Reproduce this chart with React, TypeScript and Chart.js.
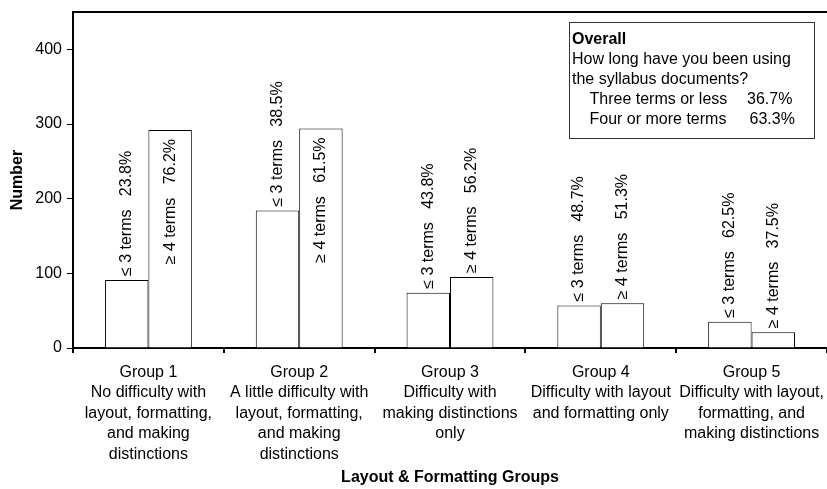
import React, { useEffect, useRef } from "react";
import { Chart, registerables } from "chart.js";

Chart.register(...registerables);

// Group labels (multi-line, drawn under each category)
const groupLabels: string[][] = [
  ["Group 1", "No difficulty with", "layout, formatting,", "and making", "distinctions"],
  ["Group 2", "A little difficulty with", "layout, formatting,", "and making", "distinctions"],
  ["Group 3", "Difficulty with", "making distinctions", "only"],
  ["Group 4", "Difficulty with layout", "and formatting only"],
  ["Group 5", "Difficulty with layout,", "formatting, and", "making distinctions"],
];

// Respondents per group by length of use
const threeOrLess = [91, 184, 74, 57, 35];
const fourOrMore = [292, 294, 95, 60, 21];

const seriesTags = ["\u2264 3 terms", "\u2265 4 terms"];
const yTickValues = [0, 100, 200, 300, 400];
const yMax = 450;

const xTitle = "Layout & Formatting Groups";
const yTitle = "Number";

const boxTitle = "Overall";
const boxQuestion = ["How long have you been using", "the syllabus documents?"];
const boxRows = ["Three terms or less", "Four or more terms"];

const FONT = "'Liberation Sans', Arial, Helvetica, sans-serif";

const pct = (v: number, total: number) => ((v / total) * 100).toFixed(1) + "%";

const barLabelPlugin = {
  id: "barLabels",
  afterDatasetsDraw(chart: any) {
    const { ctx, chartArea } = chart;
    ctx.save();
    ctx.font = `16px ${FONT}`;
    ctx.fillStyle = "#000";
    ctx.textBaseline = "middle";
    const series = [threeOrLess, fourOrMore];
    chart.data.datasets.forEach((_ds: any, di: number) => {
      const meta = chart.getDatasetMeta(di);
      meta.data.forEach((bar: any, i: number) => {
        const total = threeOrLess[i] + fourOrMore[i];
        const text = `${seriesTags[di]}   ${pct(series[di][i], total)}`;
        const w = ctx.measureText(text).width;
        const gap = 4;
        ctx.save();
        if (bar.y - gap - w >= chartArea.top + 2) {
          ctx.translate(bar.x, bar.y - gap);
          ctx.rotate(-Math.PI / 2);
          ctx.textAlign = "left";
        } else {
          ctx.translate(bar.x, bar.y + 9);
          ctx.rotate(-Math.PI / 2);
          ctx.textAlign = "right";
        }
        ctx.fillText(text, 0, 0);
        ctx.restore();
      });
    });
    ctx.restore();
  },
};

const framePlugin = {
  id: "frameAndBox",
  afterDraw(chart: any) {
    const { ctx, chartArea, width } = chart;
    ctx.save();
    // top frame line
    ctx.strokeStyle = "#000";
    ctx.lineWidth = 2;
    ctx.beginPath();
    ctx.moveTo(chartArea.left - 1, chartArea.top);
    ctx.lineTo(width, chartArea.top);
    ctx.stroke();

    // overall summary box
    const bx = chartArea.right - 258.5;
    const by = chartArea.top + 10;
    const bw = 245;
    const bh = 116;
    ctx.fillStyle = "#fff";
    ctx.fillRect(bx, by, bw, bh);
    ctx.strokeStyle = "#333";
    ctx.lineWidth = 1;
    ctx.strokeRect(Math.round(bx) + 0.5, Math.round(by) + 0.5, bw, bh);

    const totalA = threeOrLess.reduce((a, b) => a + b, 0);
    const totalB = fourOrMore.reduce((a, b) => a + b, 0);
    const grand = totalA + totalB;

    ctx.fillStyle = "#000";
    ctx.textBaseline = "middle";
    ctx.textAlign = "left";
    ctx.font = `bold 16px ${FONT}`;
    ctx.fillText(boxTitle, bx + 3.5, by + 18);
    ctx.font = `16px ${FONT}`;
    ctx.fillText(boxQuestion[0], bx + 3.5, by + 38);
    ctx.fillText(boxQuestion[1], bx + 3.5, by + 58);
    ctx.fillText(boxRows[0], bx + 21, by + 78);
    ctx.fillText(boxRows[1], bx + 21, by + 98);
    ctx.fillText(pct(totalA, grand), bx + 178.5, by + 78);
    ctx.fillText(pct(totalB, grand), bx + 181, by + 98);
    ctx.restore();
  },
};

export default function App() {
  const canvasRef = useRef<HTMLCanvasElement | null>(null);

  useEffect(() => {
    const canvas = canvasRef.current;
    if (!canvas) return;
    Chart.defaults.color = "#000";
    const chart = new Chart(canvas, {
      type: "bar",
      data: {
        labels: groupLabels,
        datasets: [
          {
            label: seriesTags[0],
            data: threeOrLess,
            backgroundColor: "#fff",
            borderColor: "#000",
            borderWidth: 1,
            categoryPercentage: 0.576,
            barPercentage: 1,
          },
          {
            label: seriesTags[1],
            data: fourOrMore,
            backgroundColor: "#fff",
            borderColor: "#000",
            borderWidth: 1,
            categoryPercentage: 0.576,
            barPercentage: 1,
          },
        ],
      },
      options: {
        responsive: false,
        animation: false,
        devicePixelRatio: 1,
        layout: { padding: { top: 12, right: 0, left: 0, bottom: 0 } },
        plugins: {
          legend: { display: false },
          tooltip: { enabled: false },
        },
        scales: {
          x: {
            grid: {
              display: true,
              offset: true,
              drawOnChartArea: false,
              drawTicks: true,
              tickLength: 5,
              color: "#000",
              lineWidth: 2,
            },
            border: { display: true, color: "#000", width: 2 },
            ticks: {
              autoSkip: false,
              maxRotation: 0,
              minRotation: 0,
              padding: 9,
              color: "#000",
              font: { family: FONT, size: 16, lineHeight: 1.28 },
            },
            title: {
              display: true,
              text: xTitle,
              color: "#000",
              font: { family: FONT, size: 16, weight: "bold" },
              padding: { top: 0, bottom: 2 },
            },
            afterFit(scale: any) {
              scale.height = 141;
              scale.paddingLeft = 0;
              scale.paddingRight = 0;
            },
          },
          y: {
            min: 0,
            max: yMax,
            grid: {
              display: true,
              drawOnChartArea: false,
              drawTicks: true,
              tickLength: 6,
              color: "#000",
              lineWidth: 1,
            },
            border: { display: true, color: "#000", width: 2 },
            ticks: {
              stepSize: 100,
              padding: 5,
              color: "#000",
              font: { family: FONT, size: 16 },
            },
            afterBuildTicks(scale: any) {
              scale.ticks = yTickValues.map((v) => ({ value: v }));
            },
            title: {
              display: true,
              text: yTitle,
              color: "#000",
              font: { family: FONT, size: 16, weight: "bold" },
              padding: { top: 8, bottom: 0 },
            },
            afterFit(scale: any) {
              scale.width = 73;
              scale.paddingTop = 0;
              scale.paddingBottom = 0;
            },
          },
        },
      },
      plugins: [barLabelPlugin, framePlugin],
    } as any);
    return () => chart.destroy();
  }, []);

  return (
    <div style={{ position: "absolute", left: 0, top: 0, width: 827, height: 489, background: "#fff" }}>
      <canvas ref={canvasRef} width={827} height={489} style={{ display: "block" }} />
    </div>
  );
}
